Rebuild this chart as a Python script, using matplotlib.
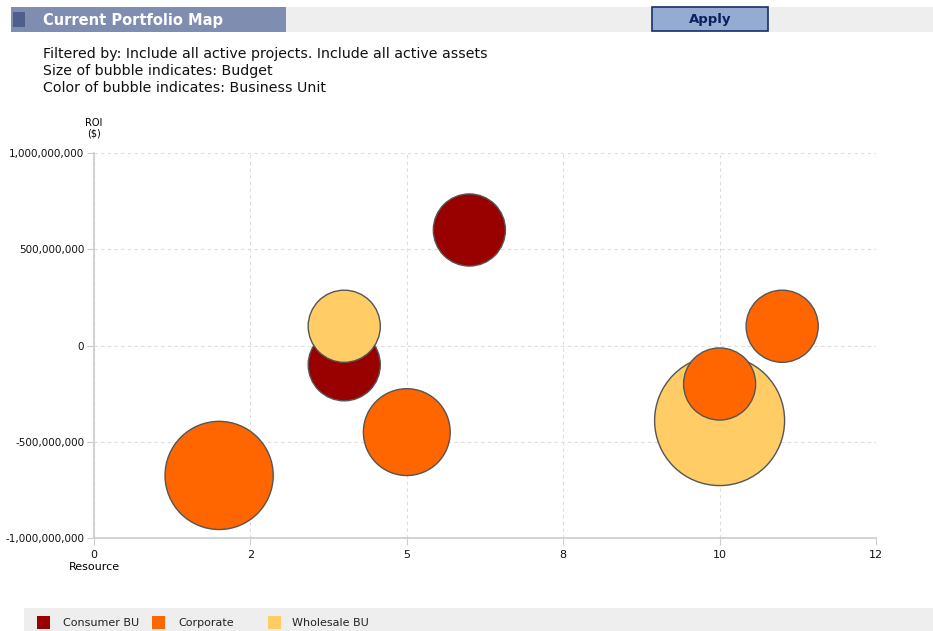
import numpy as np
import matplotlib.pyplot as plt
from matplotlib.patches import Rectangle

# portfolio data
units = ["Consumer BU", "Wholesale BU", "Corporate"]
unit_colors = {"Consumer BU": "#990000", "Corporate": "#ff6600", "Wholesale BU": "#ffcc66"}

consumer_resource = [6, 4]
consumer_roi = [600e6, -100e6]
consumer_budget = [1.0, 1.0]

wholesale_resource = [4, 10]
wholesale_roi = [100e6, -390e6]
wholesale_budget = [1.0, 3.25]

corporate_resource = [5, 2, 10, 11]
corporate_roi = [-450e6, -675e6, -200e6, 100e6]
corporate_budget = [1.45, 2.25, 1.0, 1.0]

x_ticks = [0, 2.5, 5, 7.5, 10, 12.5]
y_ticks = [-1e9, -5e8, 0, 5e8, 1e9]

W, H = 933, 631
fig = plt.figure(figsize=(W / 100, H / 100), dpi=100)


def px_rect(x0, y0, x1, y1, **kw):
    # rectangle given in pixel coords measured from the top-left corner
    fig.patches.append(Rectangle((x0 / W, 1 - y1 / H), (x1 - x0) / W, (y1 - y0) / H,
                                 transform=fig.transFigure, **kw))


def px_text(x, y, s, **kw):
    fig.text(x / W, 1 - y / H, s, **kw)


# header bar
px_rect(11, 7, 933, 32, facecolor="#eeeeee", edgecolor="none")
px_rect(11, 7, 286, 32, facecolor="#7f8db0", edgecolor="none")
px_rect(13, 12, 25, 27, facecolor="#4f5f8c", edgecolor="none")
px_text(43, 20, "Current Portfolio Map", color="white", fontsize=10.5,
        fontweight="bold", va="center", ha="left")
px_rect(652, 7, 768, 31, facecolor="#94acd2", edgecolor="#1a2d6b", linewidth=1.2)
px_text(710, 19, "Apply", color="#0d1f5c", fontsize=9.5, fontweight="bold",
        va="center", ha="center")

desc = ["Filtered by: Include all active projects. Include all active assets",
        "Size of bubble indicates: Budget",
        "Color of bubble indicates: Business Unit"]
for i, line in enumerate(desc):
    px_text(43, 54 + 17 * i, line, fontsize=10.2, va="center", ha="left", color="#111111")

# plot area
ax = fig.add_axes([94 / W, 1 - 538 / H, (876 - 94) / W, (538 - 153) / H])
ax.set_xlim(0, 12.5)
ax.set_ylim(-1e9, 1e9)

max_budget = max(consumer_budget + wholesale_budget + corporate_budget)
r_max_px = 65


def sizes(budget):
    r = r_max_px * np.sqrt(np.array(budget) / max_budget)
    return (2 * r * 0.72) ** 2


series = [
    ("Consumer BU", consumer_resource, consumer_roi, consumer_budget),
    ("Wholesale BU", wholesale_resource, wholesale_roi, wholesale_budget),
    ("Corporate", corporate_resource, corporate_roi, corporate_budget),
]
for name, xs, ys, b in series:
    ax.scatter(xs, ys, s=sizes(b), color=unit_colors[name], edgecolor="#555555",
               linewidth=1.0, zorder=3, clip_on=False)

ax.set_xticks(x_ticks)
ax.set_xticklabels([str(int(round(t))) for t in x_ticks])
ax.set_yticks(y_ticks)
ax.set_yticklabels([f"{t:,.0f}" for t in y_ticks])
ax.grid(True, color="#dddddd", linestyle=(0, (3, 3)), linewidth=0.8, zorder=0)
for side in ("top", "right"):
    ax.spines[side].set_visible(False)
for side in ("left", "bottom"):
    ax.spines[side].set_color("#cccccc")
    ax.spines[side].set_linewidth(1.2)
ax.tick_params(colors="#cccccc", labelcolor="#111111", labelsize=8, length=5)
ax.tick_params(axis="y", pad=2, labelsize=7.5)

px_text(94, 128, "ROI\n($)", fontsize=7, ha="center", va="center", linespacing=1.1)
px_text(94, 567, "Resource", fontsize=8, ha="center", va="center")

# legend bar
px_rect(24, 608, 933, 631, facecolor="#eeeeee", edgecolor="none")
leg = [("Consumer BU", 37, 63), ("Corporate", 152, 178), ("Wholesale BU", 268, 292)]
for name, sx, tx in leg:
    px_rect(sx, 616, sx + 13, 629, facecolor=unit_colors[name], edgecolor="none")
    px_text(tx, 623, name, fontsize=8, va="center", ha="left", color="#222222")

fig.savefig("out.png", dpi=100)
